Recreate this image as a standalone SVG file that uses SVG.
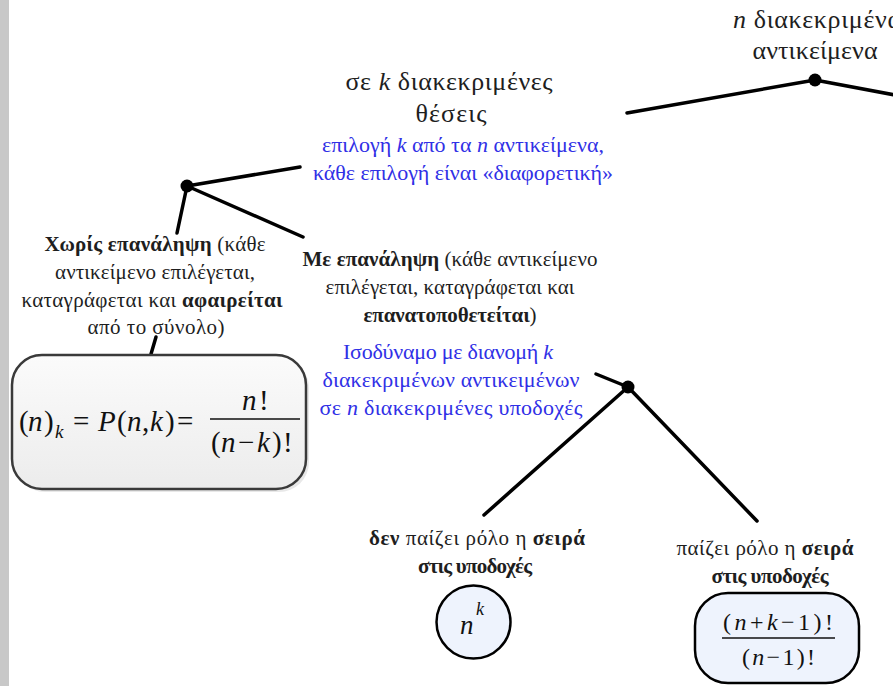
<svg xmlns="http://www.w3.org/2000/svg" width="893" height="686" viewBox="0 0 893 686" font-family="Liberation Serif, DejaVu Serif, serif">
<defs>
<style>
.t{fill:#1e1e1e;text-anchor:middle}
.s21{font-size:21px}
.s22{font-size:22px}
.s26{font-size:26px}
.b{font-weight:bold}
.i{font-style:italic}
.blue{fill:#3030e6}
.m{fill:#111}
.ln{stroke:#000;stroke-width:3.5;stroke-linecap:round;fill:none}
</style>
<linearGradient id="g1" x1="0" y1="0" x2="0" y2="1">
<stop offset="0" stop-color="#fbfbfb"/><stop offset="1" stop-color="#ececec"/>
</linearGradient>
</defs>
<rect x="0" y="0" width="893" height="686" fill="#fff"/>
<rect x="0" y="0" width="9" height="686" fill="#c8c8c8"/>

<g id="connectors">
<line class="ln" x1="627" y1="113" x2="815" y2="80"/>
<line class="ln" x1="815" y1="80" x2="895" y2="95"/>
<line class="ln" x1="187" y1="186" x2="300" y2="167"/>
<line class="ln" x1="187" y1="186" x2="303" y2="237"/>
<line class="ln" x1="187" y1="186" x2="177" y2="233"/>
<line class="ln" x1="156" y1="337" x2="151" y2="354"/>
<line class="ln" x1="596" y1="374" x2="628" y2="387"/>
<line class="ln" x1="628" y1="387" x2="484" y2="515"/>
<line class="ln" x1="628" y1="387" x2="757" y2="521"/>
<circle cx="815" cy="80" r="6.5" fill="#000"/>
<circle cx="187" cy="186" r="6.5" fill="#000"/>
<circle cx="628" cy="387" r="6.5" fill="#000"/>
</g>

<g id="root">
<text class="t s26" x="733" y="28" style="text-anchor:start" textLength="168"><tspan class="i">n</tspan> διακεκριμένα</text>
<text class="t s26" x="815" y="59" textLength="125">αντικείμενα</text>
</g>

<g id="positions">
<text class="t s26" x="449" y="90" textLength="207">σε <tspan class="i">k</tspan> διακεκριμένες</text>
<text class="t s26" x="451" y="122" textLength="71">θέσεις</text>
<text class="t s22 blue" x="463" y="152" textLength="282">επιλογή <tspan class="i">k</tspan> από τα <tspan class="i">n</tspan> αντικείμενα,</text>
<text class="t s22 blue" x="463" y="180" textLength="300">κάθε επιλογή είναι «διαφορετική»</text>
</g>

<g id="without">
<text class="t s21" x="155" y="251" textLength="221"><tspan class="b">Χωρίς επανάληψη</tspan> (κάθε</text>
<text class="t s21" x="155" y="279" textLength="200">αντικείμενο επιλέγεται,</text>
<text class="t s21" x="152" y="307" textLength="261">καταγράφεται και <tspan class="b">αφαιρείται</tspan></text>
<text class="t s21" x="156" y="334" textLength="137">από το σύνολο)</text>
</g>

<g id="formula-perm">
<rect x="15" y="358" width="294" height="134" rx="30" fill="#d8d8d8" opacity="0.6"/>
<rect x="12" y="355" width="294" height="134" rx="30" fill="url(#g1)" stroke="#3a3a3a" stroke-width="2.5"/>
<text class="m" font-size="29" y="431"><tspan x="19">(</tspan><tspan class="i" x="28">n</tspan><tspan x="44">)</tspan></text>
<text class="m i" font-size="19" x="55" y="438">k</text>
<text class="m" font-size="29" x="73" y="431">=</text>
<text class="m" font-size="29" y="431"><tspan class="i" x="98">P</tspan><tspan x="117">(</tspan><tspan class="i" x="127">n</tspan><tspan x="142">,</tspan><tspan class="i" x="150">k</tspan><tspan x="165">)</tspan></text>
<text class="m" font-size="29" x="177" y="431">=</text>
<text class="m" font-size="29" y="410"><tspan class="i" x="242">n</tspan><tspan x="259">!</tspan></text>
<line x1="210" y1="419" x2="300" y2="419" stroke="#111" stroke-width="1.5"/>
<text class="m" font-size="29" y="452"><tspan x="211">(</tspan><tspan class="i" x="221">n</tspan><tspan x="238">−</tspan><tspan class="i" x="257">k</tspan><tspan x="272">)</tspan><tspan x="283">!</tspan></text>
</g>

<g id="with">
<text class="t s21" x="450" y="266" textLength="295"><tspan class="b">Με επανάληψη</tspan> (κάθε αντικείμενο</text>
<text class="t s21" x="450" y="294" textLength="249">επιλέγεται, καταγράφεται και</text>
<text class="t s21" x="450" y="322" textLength="173"><tspan class="b">επανατοποθετείται</tspan>)</text>
<text class="t s22 blue" x="448" y="359" textLength="210">Ισοδύναμο με διανομή <tspan class="i">k</tspan></text>
<text class="t s22 blue" x="451" y="387" textLength="257">διακεκριμένων αντικειμένων</text>
<text class="t s22 blue" x="451" y="415" textLength="263">σε <tspan class="i">n</tspan> διακεκριμένες υποδοχές</text>
</g>

<g id="unordered">
<text class="t s21" x="477" y="545" textLength="216"><tspan class="b">δεν</tspan> παίζει ρόλο η <tspan class="b">σειρά</tspan></text>
<text class="t s21 b" x="475" y="573" textLength="114">στις υποδοχές</text>
<ellipse cx="473.5" cy="622" rx="37" ry="36.5" fill="#eef3fd" stroke="#000" stroke-width="2.5"/>
<text class="m i" font-size="27" x="460" y="634">n</text>
<text class="m i" font-size="18" x="476" y="615">k</text>
</g>

<g id="ordered">
<text class="t s21" x="765" y="555" textLength="177">παίζει ρόλο η <tspan class="b">σειρά</tspan></text>
<text class="t s21 b" x="770" y="583" textLength="117">στις υποδοχές</text>
<rect x="695" y="593" width="164" height="90" rx="33" fill="#eef3fd" stroke="#000" stroke-width="2.5"/>
<text class="m" font-size="24" x="723" y="630" textLength="110">(<tspan class="i">n</tspan>+<tspan class="i">k</tspan>−1)!</text>
<line x1="722" y1="638" x2="835" y2="638" stroke="#111" stroke-width="1.5"/>
<text class="m" font-size="24" x="742" y="665" textLength="73">(<tspan class="i">n</tspan>−1)!</text>
</g>
</svg>
